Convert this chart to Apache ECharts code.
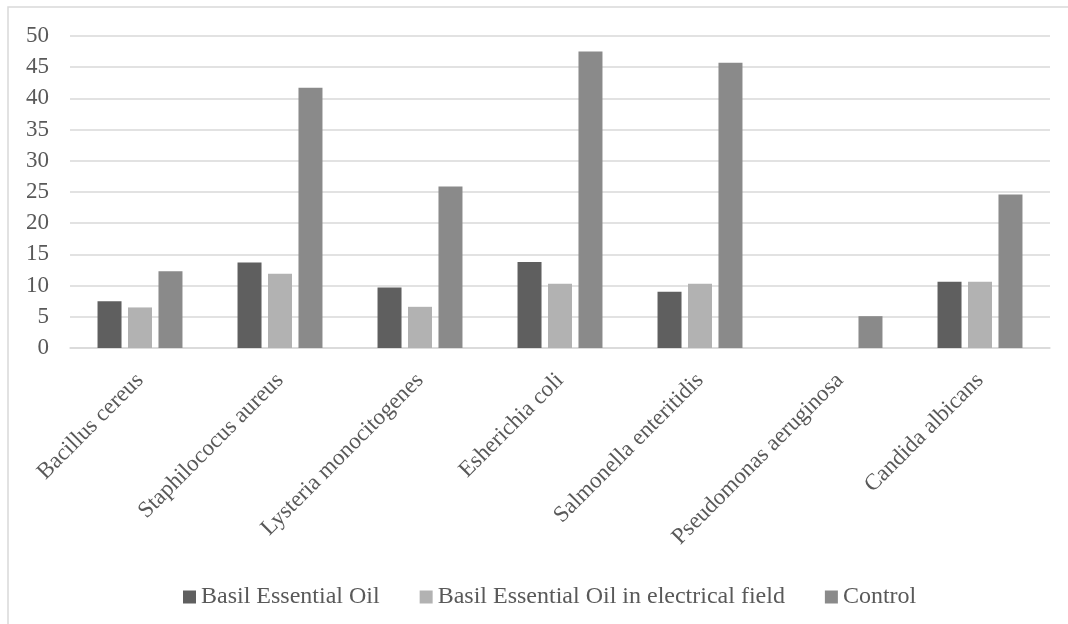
<!DOCTYPE html>
<html>
<head>
<meta charset="utf-8">
<script src="https://cdn.jsdelivr.net/npm/echarts@6/dist/echarts.min.js"></script>
<style>
  html, body { margin: 0; padding: 0; background: #ffffff; }
  #chart { width: 1068px; height: 624px; }
</style>
</head>
<body>
<div id="chart"></div>
<script>
// Microorganisms tested
const categories = [
  'Bacillus cereus',
  'Staphilococus aureus',
  'Lysteria monocitogenes',
  'Esherichia coli',
  'Salmonella enteritidis',
  'Pseudomonas aeruginosa',
  'Candida albicans'
];

// Series names
const seriesNames = [
  'Basil Essential Oil',
  'Basil Essential Oil in electrical field',
  'Control'
];

// Values per series (null = no bar)
const basilOil = [7.5, 13.7, 9.7, 13.8, 9.0, null, 10.6];
const basilOilField = [6.5, 11.9, 6.6, 10.3, 10.3, null, 10.6];
const control = [12.3, 41.7, 25.9, 47.5, 45.7, 5.1, 24.6];

// Value axis ticks
const yMin = 0;
const yMax = 50;
const yStep = 5;

const colors = ['#5f5f5f', '#b2b2b2', '#8a8a8a'];
const textColor = '#595959';
const lineColor = '#d9d9d9';
const font = 'Liberation Serif';

const chart = echarts.init(document.getElementById('chart'), null, { renderer: 'canvas' });

const seriesData = [basilOil, basilOilField, control];

chart.setOption({
  animation: false,
  backgroundColor: '#ffffff',
  color: colors,
  textStyle: { fontFamily: font },
  graphic: [{
    type: 'rect',
    shape: { x: 8, y: 7, width: 1200, height: 800 },
    style: { fill: 'none', stroke: lineColor, lineWidth: 1.5 },
    silent: true
  }],
  grid: {
    left: 70,
    right: 18,
    top: 36,
    bottom: 276,
    containLabel: false
  },
  legend: {
    left: 178,
    top: 580,
    itemWidth: 13,
    itemHeight: 13,
    itemGap: 40,
    icon: 'rect',
    textStyle: { color: textColor, fontSize: 24, fontFamily: font },
    data: seriesNames
  },
  xAxis: {
    type: 'category',
    data: categories,
    axisLine: { show: true, lineStyle: { color: lineColor, width: 1.5 } },
    axisTick: { show: false },
    axisLabel: {
      rotate: 45,
      interval: 0,
      margin: 29,
      color: textColor,
      fontSize: 23,
      fontFamily: font
    }
  },
  yAxis: {
    type: 'value',
    min: yMin,
    max: yMax,
    interval: yStep,
    axisLine: { show: false },
    axisTick: { show: false },
    axisLabel: {
      margin: 21,
      color: textColor,
      fontSize: 23,
      fontFamily: font
    },
    splitLine: { lineStyle: { color: lineColor, width: 1.5 } }
  },
  series: seriesNames.map((name, i) => ({
    name: name,
    type: 'bar',
    data: seriesData[i],
    barWidth: 24,
    barGap: '27%',
    itemStyle: { color: colors[i] }
  }))
});
</script>
</body>
</html>
